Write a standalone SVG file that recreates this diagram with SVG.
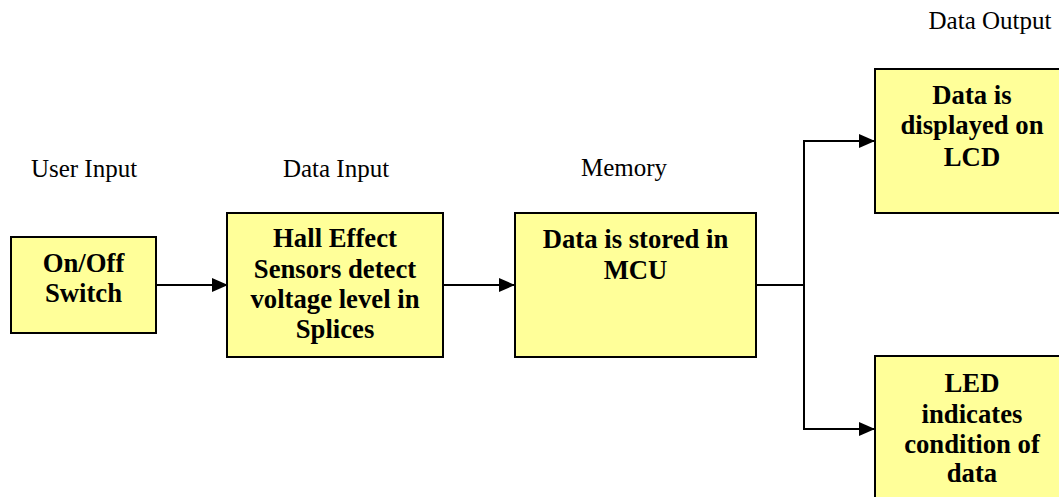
<svg xmlns="http://www.w3.org/2000/svg" width="1059" height="497" viewBox="0 0 1059 497">
<style>
.box{fill:#FFFF99;stroke:#000;stroke-width:2}
.bt{font-family:"Liberation Serif","Times New Roman",serif;font-weight:bold;font-size:26.7px;fill:#000;text-anchor:middle}
.lb{font-family:"Liberation Serif","Times New Roman",serif;font-size:25px;fill:#000;text-anchor:middle}
.ln{fill:none;stroke:#000;stroke-width:2}
</style>
<defs>
<marker id="ah" viewBox="0 0 16 14" refX="16" refY="7" markerWidth="16" markerHeight="14" markerUnits="userSpaceOnUse" orient="auto">
<path d="M0,0 L16,7 L0,14 Z" fill="#000"/>
</marker>
</defs>
<g id="labels">
<text class="lb" x="84" y="177">User Input</text>
<text class="lb" x="336" y="177">Data Input</text>
<text class="lb" x="624" y="176">Memory</text>
<text class="lb" x="990" y="29">Data Output</text>
</g>
<g id="connectors">
<line class="ln" x1="156" y1="285" x2="228" y2="285" marker-end="url(#ah)"/>
<line class="ln" x1="443" y1="285" x2="515" y2="285" marker-end="url(#ah)"/>
<polyline class="ln" points="756,285 804,285"/>
<polyline class="ln" points="804,429 804,141 875,141" marker-end="url(#ah)"/>
<polyline class="ln" points="804,285 804,429 875,429" marker-end="url(#ah)"/>
</g>
<g id="node-switch">
<rect class="box" x="11" y="237" width="145" height="96"/>
<text class="bt" x="83.5" y="272">On/Off</text>
<text class="bt" x="83.5" y="302">Switch</text>
</g>
<g id="node-sensors">
<rect class="box" x="227" y="213" width="216" height="144"/>
<text class="bt" x="335" y="247">Hall Effect</text>
<text class="bt" x="335" y="278">Sensors detect</text>
<text class="bt" x="335" y="308">voltage level in</text>
<text class="bt" x="335" y="338">Splices</text>
</g>
<g id="node-memory">
<rect class="box" x="515" y="213" width="241" height="144"/>
<text class="bt" x="635.5" y="248">Data is stored in</text>
<text class="bt" x="635.5" y="279">MCU</text>
</g>
<g id="node-lcd">
<rect class="box" x="875" y="69" width="194" height="144"/>
<text class="bt" x="972" y="104">Data is</text>
<text class="bt" x="972" y="134">displayed on</text>
<text class="bt" x="972" y="166">LCD</text>
</g>
<g id="node-led">
<rect class="box" x="875" y="356" width="194" height="150"/>
<text class="bt" x="972" y="392">LED</text>
<text class="bt" x="972" y="423">indicates</text>
<text class="bt" x="972" y="453">condition of</text>
<text class="bt" x="972" y="482">data</text>
</g>
</svg>
